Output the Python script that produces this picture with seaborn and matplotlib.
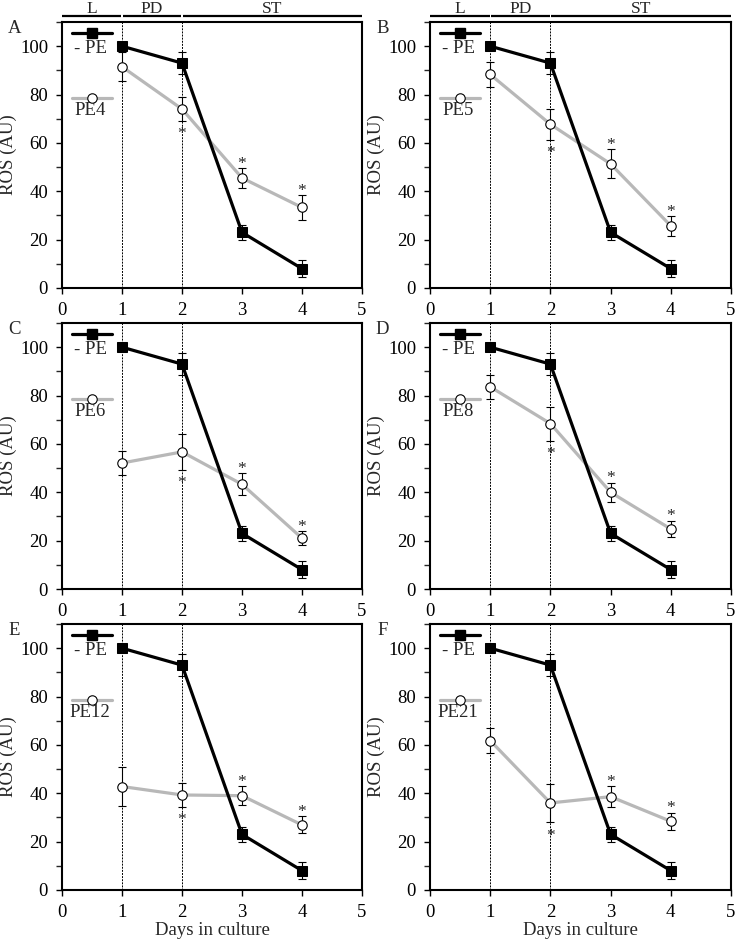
import numpy as np
import pandas as pd
import matplotlib
matplotlib.use("Agg")
import matplotlib.pyplot as plt
import matplotlib.transforms as mtransforms
from matplotlib.ticker import MultipleLocator
import seaborn as sns

# data
days = [1, 2, 3, 4]
ctrl_label = "- PE"
ctrl_vals = [100, 93, 23, 8]
ctrl_err = [0, 4.5, 3, 3.5]

panel_letters = ["A", "B", "C", "D", "E", "F"]
pe_labels = ["PE4", "PE5", "PE6", "PE8", "PE12", "PE21"]
pe_vals = [
    [91.5, 74.0, 45.5, 33.3],
    [88.3, 67.7, 51.3, 25.7],
    [52.1, 56.7, 43.3, 21.0],
    [83.6, 68.4, 40.0, 24.8],
    [42.8, 39.3, 39.0, 26.9],
    [61.8, 36.0, 38.6, 28.4],
]
pe_err = [
    [6.0, 5.0, 4.0, 5.0],
    [5.0, 6.4, 6.0, 4.0],
    [5.0, 7.5, 4.5, 3.0],
    [5.0, 7.0, 4.0, 3.5],
    [8.0, 5.0, 4.0, 3.5],
    [5.0, 8.0, 4.4, 3.6],
]
# asterisk: -1 = below the error bar, +1 = above
star_side = [0, -1, 1, 1]

phases = ["L", "PD", "ST"]
phase_start = [0.0, 1.01, 2.01]
phase_end = [0.99, 1.99, 5.0]

GRAY = "#b8b8b8"

sns.set_style("ticks")
plt.rcParams["font.family"] = ["Liberation Serif", "DejaVu Serif"]

fig = plt.figure(figsize=(7.35, 9.40), dpi=100)

W, H = 735.0, 940.0
col_left = [62, 430]
col_width = [300, 301]
row_top = [22, 323, 624]
ax_h = 266

for i in range(6):
    r, c = divmod(i, 2)
    left = col_left[c] / W
    bottom = 1 - (row_top[r] + ax_h) / H
    ax = fig.add_axes([left, bottom, col_width[c] / W, ax_h / H])

    # phase boundaries
    for xv in [1, 2]:
        ax.axvline(xv, color="black", lw=0.7, ls=(0, (2, 1.2)), zorder=1)

    df = pd.DataFrame({"day": days, "ros": pe_vals[i]})
    ax.errorbar(days, pe_vals[i], yerr=pe_err[i], fmt="none", ecolor="black",
                elinewidth=0.8, capsize=3, capthick=0.8, zorder=2)
    sns.lineplot(data=df, x="day", y="ros", ax=ax, color=GRAY, lw=2.3,
                 marker="o", markersize=6.8, markerfacecolor="white",
                 markeredgecolor="black", markeredgewidth=0.8, zorder=3)

    dfc = pd.DataFrame({"day": days, "ros": ctrl_vals})
    ax.errorbar(days, ctrl_vals, yerr=ctrl_err, fmt="none", ecolor="black",
                elinewidth=0.8, capsize=3, capthick=0.8, zorder=4)
    sns.lineplot(data=dfc, x="day", y="ros", ax=ax, color="black", lw=2.3,
                 marker="s", markersize=7, markerfacecolor="black",
                 markeredgecolor="black", zorder=5)

    # significance asterisks
    for d, v, e, s in zip(days, pe_vals[i], pe_err[i], star_side):
        if s == 0:
            continue
        if s > 0:
            ax.text(d, v + e - 1.6, "*", ha="center", va="bottom", fontsize=12.5)
        else:
            ax.text(d, v - e - 8.8, "*", ha="center", va="bottom", fontsize=12.5)

    # hand-made legend
    ax.plot([0.16, 0.83], [105.3, 105.3], color="black", lw=2.3, zorder=5)
    ax.plot([0.5], [105.3], marker="s", ms=7, color="black", zorder=6)
    ax.text(0.48, 99.2, ctrl_label, ha="center", va="center", fontsize=13.5)
    ax.plot([0.16, 0.83], [78.6, 78.6], color=GRAY, lw=2.3, zorder=5)
    ax.plot([0.5], [78.6], marker="o", ms=6.8, mfc="white", mec="black",
            mew=0.8, zorder=6)
    ax.text(0.47, 73.5, pe_labels[i], ha="center", va="center", fontsize=13.5)

    ax.set_xlim(0, 5)
    ax.set_ylim(0, 110)
    ax.set_xticks(range(0, 6))
    ax.set_yticks(range(0, 101, 20))
    ax.yaxis.set_minor_locator(MultipleLocator(10))
    ax.tick_params(axis="both", which="major", direction="out", length=4,
                   width=1, labelsize=13.5, colors="black")
    ax.tick_params(axis="y", which="major", pad=6)
    ax.tick_params(axis="x", which="major", pad=6)
    ax.tick_params(axis="y", which="minor", direction="out", length=4, width=1)
    for sp in ax.spines.values():
        sp.set_visible(True)
        sp.set_linewidth(1.5)
        sp.set_color("black")

    ax.set_ylabel("ROS (AU)", fontsize=13.5, labelpad=2)
    if r == 2:
        ax.set_xlabel("Days in culture", fontsize=13.5, labelpad=1)
    else:
        ax.set_xlabel("")

    ax.text(-0.158, 0.975, panel_letters[i], transform=ax.transAxes,
            ha="center", va="center", fontsize=13.5)

    # growth phase bar on top row
    if r == 0:
        trans = mtransforms.blended_transform_factory(ax.transData, ax.transAxes)
        for name, x0, x1 in zip(phases, phase_start, phase_end):
            ax.plot([x0, x1], [1.0226, 1.0226], color="black", lw=1.6,
                    transform=trans, clip_on=False, solid_capstyle="butt")
            ax.text((x0 + x1) / 2, 1.034, name, transform=trans, ha="center",
                    va="baseline", fontsize=12.5)

fig.savefig("out.png", dpi=100, facecolor="white")
